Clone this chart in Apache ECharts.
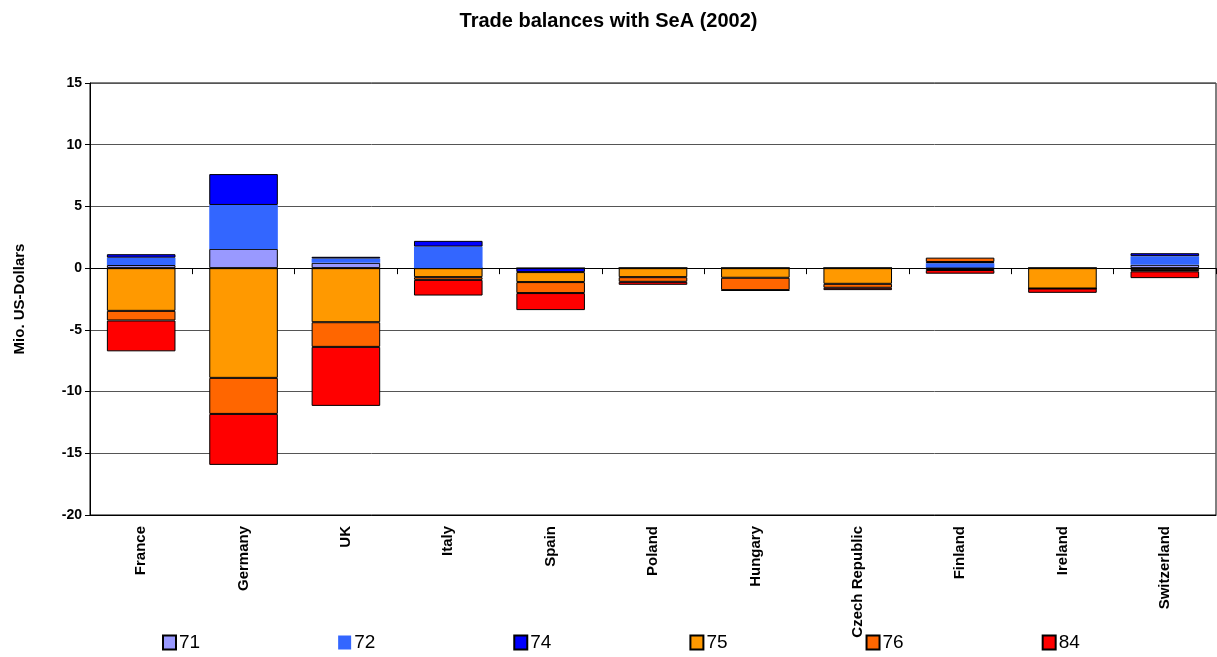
<!DOCTYPE html>
<html>
<head>
<meta charset="utf-8">
<script src="https://cdn.jsdelivr.net/npm/echarts@6/dist/echarts.min.js"></script>
<style>
html,body{margin:0;padding:0;background:#fff;}
#chart{width:1217px;height:657px;}
</style>
</head>
<body>
<div id="chart"></div>
<script>
const categories = ['France','Germany','UK','Italy','Spain','Poland','Hungary','Czech Republic','Finland','Ireland','Switzerland'];
const s71 = [0.25, 1.56, 0.43, 0, 0, 0, 0, 0, 0.05, 0, 0.27];
const s72 = [0.6, 3.56, 0.35, 1.75, 0, 0, 0, 0, 0.35, 0, 0.7];
const s74 = [0.28, 2.5, 0.14, 0.46, -0.32, 0, 0, 0, 0.1, 0, 0.24];
const s75 = [-3.46, -8.89, -4.38, -0.73, -0.81, -0.73, -0.78, -1.27, -0.15, -1.65, -0.16];
const s76 = [-0.78, -2.92, -2.0, -0.22, -0.89, -0.38, -1.0, -0.32, 0.35, 0, -0.1];
const s84 = [-2.5, -4.13, -4.78, -1.27, -1.38, -0.24, -0.05, -0.19, -0.3, -0.35, -0.55];
const seriesNames = ['71','72','74','75','76','84'];
const yTicks = [-20, -15, -10, -5, 0, 5, 10, 15];

const font = "'Liberation Sans', Arial, sans-serif";
const colors = ['#9999FF','#3366FF','#0000FF','#FF9900','#FF6600','#FF0000'];
const borders = [1, 0, 1, 1, 1, 1];
const dataSets = [s71, s72, s74, s75, s76, s84];

const chart = echarts.init(document.getElementById('chart'), null, {renderer: 'canvas'});
const series = seriesNames.map((n, i) => ({
  name: n,
  type: 'bar',
  stack: 'total',
  xAxisIndex: 0,
  barCategoryGap: '33%',
  data: dataSets[i],
  itemStyle: {color: colors[i], borderColor: '#000', borderWidth: borders[i]},
  emphasis: {disabled: true}
}));

chart.setOption({
  animation: false,
  textStyle: {fontFamily: font},
  title: {
    text: 'Trade balances with SeA (2002)',
    left: 'center',
    top: 6,
    textStyle: {fontFamily: font, fontSize: 20, fontWeight: 'bold', color: '#000'}
  },
  legend: {
    data: seriesNames,
    left: 157,
    top: 628,
    itemWidth: 13,
    itemHeight: 14,
    itemGap: 138,
    icon: 'rect',
    textStyle: {fontFamily: font, fontSize: 19, color: '#000', padding: [0,0,0,-2]}
  },
  grid: {
    left: 90, right: 1, top: 83, bottom: 142,
    show: true, borderColor: '#000', borderWidth: 1, backgroundColor: 'transparent',
    containLabel: false
  },
  xAxis: [
    {
      type: 'category',
      data: categories,
      position: 'bottom',
      axisLine: {show: true, onZero: false, lineStyle: {color: '#000', width: 1}},
      axisTick: {show: false},
      axisLabel: {
        rotate: 90, margin: 11, interval: 0,
        fontFamily: font, fontSize: 15, fontWeight: 'bold', color: '#000'
      },
      splitLine: {show: false}
    },
    {
      type: 'category',
      data: categories,
      position: 'top',
      axisLine: {show: true, onZero: true, lineStyle: {color: '#000', width: 1}},
      axisTick: {show: true, inside: true, interval: 0, length: 6, lineStyle: {color: '#000', width: 1}},
      axisLabel: {show: false, interval: 0},
      splitLine: {show: false}
    }
  ],
  yAxis: {
    type: 'value',
    min: yTicks[0],
    max: yTicks[yTicks.length - 1],
    interval: 5,
    name: 'Mio. US-Dollars',
    nameLocation: 'middle',
    nameRotate: 90,
    nameGap: 63,
    nameTextStyle: {fontFamily: font, fontSize: 15, fontWeight: 'bold', color: '#000'},
    axisLine: {show: true, lineStyle: {color: '#000', width: 1}},
    axisTick: {show: true, length: 5, lineStyle: {color: '#000'}},
    axisLabel: {fontFamily: font, fontSize: 14, fontWeight: 'bold', color: '#000', margin: 8},
    splitLine: {show: true, lineStyle: {color: '#555', width: 1}}
  },
  series: series
});
</script>
</body>
</html>
